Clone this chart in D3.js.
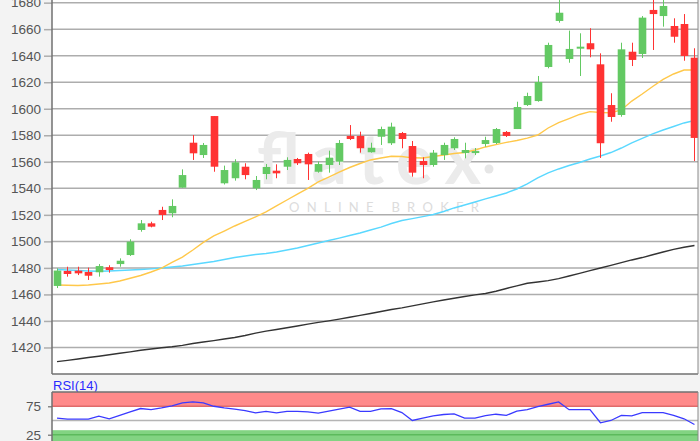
<!DOCTYPE html>
<html>
<head>
<meta charset="utf-8">
<script src="https://cdn.jsdelivr.net/npm/d3@7"></script>
<style>
html,body{margin:0;padding:0;background:#f3f3f3;}
svg{display:block;}
</style>
</head>
<body>
<svg id="chart" width="700" height="441"></svg>
<script>
// ---------- DATA ----------
const opens  = [1466.4,1477.7,1477.9,1476.9,1476.7,1480.5,1482.9,1489.7,1508.6,1513.6,1523.7,1521.2,1540.5,1574.4,1565.1,1594.5,1543.8,1547.6,1556.3,1540.0,1550.8,1553.3,1556.3,1562.1,1565.9,1552.5,1557.6,1560.1,1579.5,1579.5,1567.2,1578.9,1574.0,1581.7,1571.9,1560.6,1557.6,1565.1,1570.2,1566.6,1566.6,1573.4,1574.2,1582.5,1584.7,1602.8,1605.8,1631.5,1666.2,1637.5,1645.3,1649.4,1633.5,1602.8,1595.3,1643.0,1641.3,1674.5,1669.9,1662.4,1663.9,1638.5];
const highs  = [1479.7,1480.9,1480.9,1480.2,1482.9,1482.0,1487.2,1501.6,1516.1,1514.8,1526.1,1531.7,1554.3,1580.2,1574.2,1594.5,1557.1,1561.9,1558.9,1549.3,1558.3,1558.1,1563.4,1562.9,1566.9,1560.1,1568.4,1576.4,1587.7,1582.7,1574.4,1586.5,1589.5,1582.5,1575.7,1563.4,1568.9,1574.4,1578.5,1574.4,1570.4,1578.9,1585.5,1583.2,1605.3,1612.1,1624.7,1649.8,1685.8,1658.9,1656.9,1660.7,1641.8,1611.7,1649.8,1649.8,1669.9,1684.3,1684.3,1668.2,1671.4,1645.6];
const lows   = [1464.8,1473.4,1474.6,1470.9,1473.4,1476.4,1480.9,1489.0,1507.3,1510.6,1516.1,1518.2,1540.5,1561.4,1562.9,1552.5,1542.9,1545.8,1546.8,1538.7,1546.8,1547.6,1553.8,1557.6,1546.3,1551.8,1551.8,1557.6,1576.4,1566.9,1566.9,1572.7,1572.7,1570.2,1548.8,1547.6,1556.3,1561.4,1568.9,1562.6,1565.1,1571.4,1573.4,1578.7,1584.7,1602.1,1605.3,1630.5,1664.9,1634.7,1624.7,1638.8,1562.9,1590.2,1594.0,1632.2,1638.3,1644.3,1661.9,1649.8,1636.2,1560.6];
const closes = [1478.0,1475.4,1475.9,1474.1,1481.4,1478.4,1485.4,1499.8,1513.6,1511.1,1519.9,1526.7,1550.0,1566.4,1572.7,1556.3,1553.8,1559.6,1550.0,1546.3,1556.1,1551.3,1561.4,1558.9,1558.1,1558.3,1563.1,1574.2,1577.2,1570.2,1570.6,1584.7,1586.5,1577.2,1551.8,1557.6,1566.9,1572.7,1577.2,1568.9,1568.1,1576.4,1584.7,1579.5,1601.3,1609.6,1620.2,1648.1,1672.4,1645.1,1646.8,1644.8,1574.0,1593.8,1644.8,1636.8,1668.7,1671.4,1677.5,1654.3,1639.8,1578.0];

// moving averages (yellow / cyan / black)
const maShort = [1467.1,1466.9,1466.7,1467.1,1467.9,1468.6,1470.1,1472.2,1474.3,1476.9,1479.9,1484.1,1488.2,1493.5,1499.2,1504.1,1507.8,1511.6,1515.0,1518.4,1522.2,1526.7,1531.2,1535.7,1539.9,1544.8,1548.5,1552.3,1555.7,1558.7,1561.4,1562.9,1564.2,1564.0,1563.0,1562.9,1564.0,1565.1,1566.3,1567.0,1568.9,1571.2,1573.0,1574.6,1576.1,1577.9,1580.2,1585.5,1589.6,1592.6,1595.7,1597.8,1597.2,1597.0,1599.1,1605.8,1611.1,1616.8,1622.1,1626.2,1629.2,1629.2];
const maMid   = [1478.8,1478.4,1478.0,1477.7,1477.5,1477.7,1478.0,1478.4,1478.8,1479.3,1479.9,1480.7,1481.4,1482.6,1483.7,1484.8,1486.3,1487.8,1489.0,1490.1,1490.9,1492.0,1493.5,1495.0,1496.9,1498.8,1500.7,1502.5,1504.4,1506.3,1508.6,1510.8,1513.5,1515.7,1517.2,1518.7,1520.3,1522.5,1525.2,1527.4,1529.7,1532.0,1534.2,1536.5,1539.5,1543.3,1547.8,1551.6,1554.6,1557.2,1559.5,1562.1,1564.4,1567.0,1570.4,1574.2,1577.6,1581.0,1584.0,1586.6,1589.3,1591.1];
const maLong  = [1409.3,1410.3,1411.3,1412.4,1413.4,1414.5,1415.6,1416.7,1417.9,1418.9,1419.8,1420.5,1421.6,1423.0,1424.1,1425.2,1426.4,1427.5,1429.0,1430.8,1432.3,1433.6,1434.9,1436.2,1437.6,1438.9,1440.1,1441.4,1442.8,1444.2,1445.6,1447.1,1448.6,1449.9,1451.4,1452.9,1454.4,1455.8,1457.1,1458.4,1459.7,1460.7,1462.4,1464.5,1466.4,1468.4,1469.4,1470.4,1471.9,1473.9,1475.9,1477.9,1479.9,1481.9,1484.0,1486.0,1487.8,1489.9,1492.0,1494.0,1495.6,1496.9];

const rsi = [54.3,52.5,52.5,52.5,57.5,53,59,65,71,69,72,75.5,81,82.5,81,75,72,70,67.5,63.5,66,63.5,66,66,65,63,66.5,70,73.5,66,66,70.5,71,64,50,54,58,60.5,61.5,54,54,58.5,61,59,66.5,69,74.5,78.5,82.5,69,69,69,46,50,59,58,63.8,63.8,63.8,59,53,43];

const priceTicks = [1420,1440,1460,1480,1500,1520,1540,1560,1580,1600,1620,1640,1660,1680];
const rsiTicks = [25,75];
const rsiLabel = "RSI(14)";
const overbought = [75,100];
const oversold = [0,33];

// ---------- LAYOUT ----------
const svg = d3.select("#chart");
const L = 52, R = 698, T = 0, B = 374;
const rT = 392, rB = 449;
const n = opens.length;

const x = d3.scaleBand().domain(d3.range(n)).range([L - 0.2, L - 0.2 + n * 10.45]).padding(0);
const cx = i => x(i) + x.bandwidth() / 2;
const y = d3.scaleLinear().domain([1400, 1682]).range([B, T]);
const yr = d3.scaleLinear().domain([0, 100]).range([rB, rT]);

svg.append("rect").attr("width",700).attr("height",441).attr("fill","#f3f3f3");

const defs = svg.append("defs");
defs.append("clipPath").attr("id","clipMain").append("rect")
  .attr("x",L).attr("y",T).attr("width",R-L).attr("height",B-T);
defs.append("clipPath").attr("id","clipRsi").append("rect")
  .attr("x",L).attr("y",rT).attr("width",R-L).attr("height",rB-rT);

// main plot background
svg.append("rect").attr("x",L).attr("y",T).attr("width",R-L).attr("height",B-T).attr("fill","#fff");

// grid
const main = svg.append("g").attr("clip-path","url(#clipMain)");
main.selectAll("line.grid").data(priceTicks).join("line")
  .attr("class","grid")
  .attr("x1",L).attr("x2",R)
  .attr("y1",d=>y(d)).attr("y2",d=>y(d))
  .attr("stroke","#adadad").attr("stroke-width",1.5);

// watermark
const wm = main.append("g");
wm.append("text").attr("x",257).attr("y",184).text("flatex")
  .attr("font-family","Lato, 'Open Sans', sans-serif").attr("font-weight",700)
  .attr("font-size",70).attr("fill","#ebebeb")
  .attr("textLength",224).attr("lengthAdjust","spacing");
wm.append("circle").attr("cx",489).attr("cy",169).attr("r",4.5).attr("fill","#e6e6e6");
wm.append("text").attr("x",289).attr("y",212).text("ONLINE BROKER")
  .attr("font-family","Lato, 'Open Sans', sans-serif").attr("font-weight",400)
  .attr("font-size",13).attr("fill","#dcdcdc")
  .attr("textLength",190).attr("lengthAdjust","spacing");

// moving averages
const lineGen = arr => d3.line().x((d,i)=>cx(i)).y(d=>y(d))(arr);
main.append("path").attr("d",lineGen(maLong)).attr("fill","none").attr("stroke","#333").attr("stroke-width",1.4);
main.append("path").attr("d",lineGen(maMid)).attr("fill","none").attr("stroke","#5ad8ff").attr("stroke-width",1.4);
main.append("path").attr("d",lineGen(maShort)).attr("fill","none").attr("stroke","#ffc84a").attr("stroke-width",1.4);

// candles
const green = "#63c963", red = "#ff3333";
const bw = 7.6;
const candles = main.selectAll("g.c").data(d3.range(n)).join("g").attr("class","c");
candles.append("line")
  .attr("x1",i=>Math.round(cx(i))+0.5).attr("x2",i=>Math.round(cx(i))+0.5)
  .attr("y1",i=>y(highs[i])).attr("y2",i=>y(lows[i]))
  .attr("stroke",i=>closes[i]>=opens[i]?green:red).attr("stroke-width",1);
candles.append("rect")
  .attr("x",i=>Math.round(cx(i))+0.5-bw/2)
  .attr("width",bw)
  .attr("y",i=>y(Math.max(opens[i],closes[i])))
  .attr("height",i=>Math.max(1.5, Math.abs(y(opens[i])-y(closes[i]))))
  .attr("fill",i=>closes[i]>=opens[i]?green:red);

// axis + frame
const yAxis = d3.axisLeft(y).tickValues(priceTicks).tickSize(8).tickPadding(3).tickFormat(d3.format("d"));
const ga = svg.append("g").attr("transform",`translate(${L},0)`).call(yAxis);
ga.select(".domain").remove();
ga.selectAll(".tick line").attr("stroke","#adadad").attr("stroke-width",1.5);
ga.selectAll(".tick text").attr("fill","#555").attr("font-size",13.5).attr("font-family","'Liberation Sans', Arial, sans-serif");

svg.append("line").attr("x1",L).attr("x2",L).attr("y1",0).attr("y2",B).attr("stroke","#707070").attr("stroke-width",1.5);
svg.append("line").attr("x1",L).attr("x2",R).attr("y1",B).attr("y2",B).attr("stroke","#707070").attr("stroke-width",1.5);
svg.append("line").attr("x1",R).attr("x2",R).attr("y1",0).attr("y2",B).attr("stroke","#8a8a8a").attr("stroke-width",1);

// RSI label
svg.append("text").attr("x",53).attr("y",390).text(rsiLabel)
  .attr("fill","#2a2aff").attr("font-size",13).attr("font-family","'Liberation Sans', Arial, sans-serif");

// RSI panel
svg.append("rect").attr("x",L).attr("y",rT).attr("width",R-L).attr("height",rB-rT).attr("fill","#fff");
const rg = svg.append("g").attr("clip-path","url(#clipRsi)");
rg.append("rect").attr("x",L).attr("width",R-L)
  .attr("y",yr(overbought[1])).attr("height",yr(overbought[0])-yr(overbought[1]))
  .attr("fill","#ff8a8a");
rg.append("rect").attr("x",L).attr("width",R-L)
  .attr("y",yr(oversold[1])).attr("height",yr(oversold[0])-yr(oversold[1]))
  .attr("fill","#82d382");
rg.append("line").attr("x1",L).attr("x2",R).attr("y1",yr(75)).attr("y2",yr(75)).attr("stroke","#e06a6a").attr("stroke-width",1.5);
rg.append("line").attr("x1",L).attr("x2",R).attr("y1",yr(50)).attr("y2",yr(50)).attr("stroke","#b5b5b5").attr("stroke-width",1.5);
rg.append("line").attr("x1",L).attr("x2",R).attr("y1",yr(25)).attr("y2",yr(25)).attr("stroke","#5cba5c").attr("stroke-width",1.5);
rg.append("path").attr("d",d3.line().x((d,i)=>cx(i)).y(d=>yr(d))(rsi))
  .attr("fill","none").attr("stroke","#3a3aff").attr("stroke-width",1.3);

const rAxis = d3.axisLeft(yr).tickValues(rsiTicks).tickSize(4).tickPadding(7);
const gr = svg.append("g").attr("transform",`translate(${L},0)`).call(rAxis);
gr.select(".domain").remove();
gr.selectAll(".tick line").attr("stroke","#888").attr("stroke-width",1.5);
gr.selectAll(".tick text").attr("fill","#555").attr("font-size",13.5).attr("font-family","'Liberation Sans', Arial, sans-serif");

svg.append("line").attr("x1",L).attr("x2",R).attr("y1",rT).attr("y2",rT).attr("stroke","#707070").attr("stroke-width",1.5);
svg.append("line").attr("x1",L).attr("x2",L).attr("y1",rT).attr("y2",441).attr("stroke","#707070").attr("stroke-width",1.5);
svg.append("line").attr("x1",R).attr("x2",R).attr("y1",rT).attr("y2",441).attr("stroke","#8a8a8a").attr("stroke-width",1);
</script>
</body>
</html>
